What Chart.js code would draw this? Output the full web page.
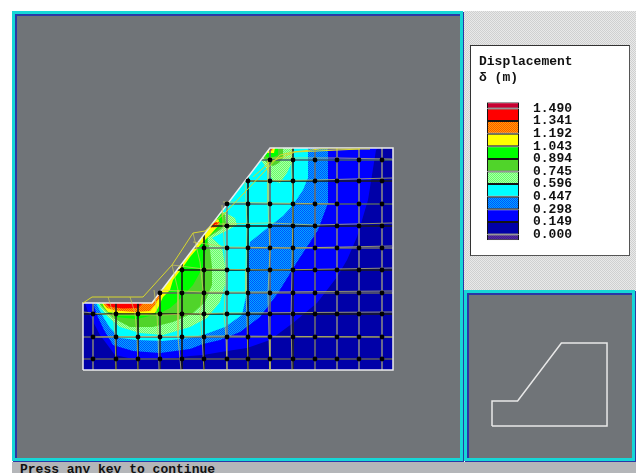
<!DOCTYPE html>
<html>
<head>
<meta charset="utf-8">
<script src="https://cdn.jsdelivr.net/npm/chart.js@4/dist/chart.umd.min.js"></script>
<style>
  html, body { margin: 0; padding: 0; background: #fff; overflow: hidden; }
  div, canvas { position: absolute; box-sizing: border-box; }
  .panel { background: #707478; border: 3px solid #16d6d6; box-shadow: inset 2px 2px 0 #2a38a6, 1px 1px 0 #2a38a6; }
  #hatch { left: 464px; top: 11px; width: 172px; height: 280px; background: repeating-conic-gradient(#cfd0d0 0 25%, #e9e9e9 0 50%) 0 0 / 2px 2px; }
  #legendBox { left: 470px; top: 45px; width: 160px; height: 211px; background: #fff; border: 1px solid #333; border-right-color: #555; border-bottom-color: #555; }
  #status { left: 12px; top: 462px; width: 624px; height: 11px; background: #b4b6b9; overflow: hidden; padding: 1px 0 0 8px;
            font: bold 13px/13px "Liberation Mono", monospace; color: #111; white-space: pre; }
</style>
</head>
<body>
<div class="panel" style="left:12px;top:11px;width:451px;height:450px"></div>
<div id="hatch"></div>
<div class="panel" style="left:464px;top:290px;width:171px;height:171px"></div>
<div id="legendBox"></div>
<div id="status">Press any key to continue</div>
<canvas id="main" width="445" height="444" style="left:15px;top:14px"></canvas>
<canvas id="legend" width="157" height="208" style="left:471px;top:46px"></canvas>
<canvas id="inset" width="166" height="164" style="left:467px;top:295px"></canvas>
<script>
// model coordinates: u along the base from the left edge, v up from the base
const slopeOutline = [[0,0],[310,0],[310,222],[187,222],[69,67],[0,67],[0,0]];

// contour regions, each one holds everything above its level
const contourBlue = [[2,67],[5,58],[17,35],[32,15],[54,10],[77,10],[107,14],[120,15],[144,19],[164,22],[187,30],[210,47],[234,67],[254,93],[264,110],[274,133],[285,170],[293,220],[295,222],[187,222],[69,67]];
const contourAzure = [[10,67],[14,55],[21,40],[30,25],[50,19],[77,17],[107,21],[120,26],[137,30],[157,38],[177,53],[195,77],[214,108],[235,140],[245,167],[245,222],[187,222],[69,67]];
const contourCyan = [[13,67],[19,55],[27,42],[37,32],[54,30],[80,29],[107,32],[120,35],[142,43],[159,55],[164,78],[164,107],[167,128],[187,144],[200,154],[210,165],[220,180],[225,192],[225,222],[187,222],[69,67]];
const contourLight = [[15,67],[17,63],[25,53],[37,43],[57,37],[80,35],[107,43],[124,52],[137,68],[142,85],[142,105],[139,123],[129,132],[145,140],[154,145],[152,152],[139,159],[69,67]];
const contourLightTop = [[187,222],[210,222],[210,210],[204,197],[197,187],[190,189],[182,204],[178,210]];
const contourMid = [[16,67],[18,64],[30,52],[47,43],[70,43],[90,48],[110,57],[122,68],[129,85],[129,103],[127,120],[124,132],[137,140],[143,146],[142,155],[138,158],[69,67]];
const contourMidTop = [[187,222],[200,222],[200,212],[196,207],[190,204],[184,207],[180,213]];
const contourGreen = [[18,67],[20,64],[32,53],[54,51],[75,56],[87,62],[94,68],[110,85],[120,103],[124,127],[125,133],[135,141],[141,148],[139,154],[137,156],[69,67]];
const contourGreenTop = [[187,222],[195,222],[195,215],[188,212],[182,214]];
const contourYellow = [[19,67],[21,63],[25,58],[40,56],[64,55],[72,57],[75,62],[80,73],[87,80],[90,90],[100,103],[107,113],[119,127],[128,136],[135,144],[136,150],[133,151],[69,67]];
const contourYellowTop = [[187,222],[192,222],[191,217],[184,217]];
const contourOrange = [[20,67],[24,62],[32,59.5],[52,58],[67,59],[72,65],[78,75],[77,78],[69,67]];
const contourOrangeLobe = [[131,148],[137,148],[135,143],[127,142]];
const contourOrangeTop = [[187,222],[190,222],[189,219],[186,219]];
const contourRed = [[22,67],[27,63],[40,61.5],[55,62],[60,67]];
const contourRedLobe = [[131.5,147.5],[135,147],[129,144]];
const contourRedTop = [[187,222],[188.5,222],[187,220]];

// mesh nodes: columns, rows, and the first column each row reaches
const meshU = [10,33,55,77,99,121,144,165,187,210,232,254,276,299];
const meshV = [11,33,56,77,100,122,144,166,189,210];
const rowFirstCol = [0,0,0,3,4,5,6,6,7,8];
const rowLeftEdge = [0,0,0,77,94,111,128,144,162,178];
const colTopEdge = [67,67,67,77,106,135,165,193,222,222,222,222,222,222];
const rowShades = ['#5c5c5c','#66666a','#1a1a1a','#606060','#1a1a1a','#6e6e6e','#1a1a1a','#506068','#1a1a1a','#40606a'];
const colShades = ['#7c7c7c','#242424','#141414','#303030','#141414','#141414','#7a7a7a','#141414','#666670','#242424','#6c6c6c','#828282','#868686','#868686'];

// displaced mesh
const movedOutline = [[0,67],[9,73],[60,73],[89,105],[110,137],[122,139],[142,157],[180,197],[197,215],[210,218],[237,221],[287,221]];
const movedOutlineInner = [[170,193],[187,208],[212,218],[277,221]];
const movedCols = [
  [[25,73],[30,57],[32,35],[33,0]],
  [[47,73],[52,57],[54,35],[55,0]],
  [[71,80],[74,57],[75,35],[76,0]],
  [[89,105],[95,80],[95,55],[95,33],[98,0]],
  [[110,137],[117,108],[120,80],[117,58],[119,33],[121,0]],
  [[139,165],[141,130],[143,100],[142,77],[141,55],[143,33],[144,0]],
  [[162,188],[164,145],[163,100],[163,77],[164,54],[165,0]],
  [[185,210],[185,165],[187,120],[185,77],[186,33],[187,0]],
  [[208,221],[210,165],[209,100],[208,52],[209,0]]
];
const movedRows = [
  [[10,33],[141,34],[309,33]],
  [[0,58],[30,55],[75,55],[141,57],[309,58]],
  [[77,80],[121,78],[187,78],[309,79]],
  [[89,105],[121,101],[187,100],[254,101],[309,102]],
  [[110,128],[144,123],[210,122],[309,124]],
  [[135,146],[187,147],[232,145],[309,147]],
  [[140,168],[187,167],[254,166]],
  [[165,189],[232,190],[309,192]],
  [[187,212],[254,212],[309,211]]
];

// legend
const legendTicks = [1.490,1.341,1.192,1.043,0.894,0.745,0.596,0.447,0.298,0.149,0.000];
const legendBands = [-0.067,0.149,0.149,0.149,0.149,0.149,0.149,0.149,0.149,0.149,0.149,0.074];

function dither(a, b) {
  const c = document.createElement('canvas');
  c.width = c.height = 2;
  const g = c.getContext('2d');
  g.fillStyle = a;
  g.fillRect(0, 0, 2, 2);
  g.fillStyle = b;
  g.fillRect(0, 0, 1, 1);
  g.fillRect(1, 1, 1, 1);
  return g.createPattern(c, 'repeat');
}

const colors = {
  purple: dither('#3c1e96', '#5a2a9a'),
  darkBlue: '#0000a8',
  blue: '#0000ff',
  azure: dither('#0050ff', '#00a8ff'),
  cyan: '#00ffff',
  light: dither('#66ff66', '#a8ffa8'),
  mid: '#50d42a',
  green: '#00ff00',
  yellow: '#ffff00',
  orange: dither('#ff5000', '#ffa800'),
  red: '#ff0000',
  darkRed: '#c80032'
};

const toXY = pts => pts.map(([x, y]) => ({ x, y }));

const region = (pts, fillColor) => ({
  data: toXY(pts), showLine: true, fill: 'shape', backgroundColor: fillColor,
  borderWidth: 0, pointRadius: 0, tension: 0
});
const polyline = (pts, color, width) => ({
  data: toXY(pts), showLine: true, fill: false, borderColor: color,
  borderWidth: width, pointRadius: 0, tension: 0
});

const layers = [
  region(slopeOutline, colors.darkBlue),
  region(contourBlue, colors.blue),
  region(contourAzure, colors.azure),
  region(contourCyan, colors.cyan),
  region(contourLight, colors.light),
  region(contourLightTop, colors.light),
  region(contourMid, colors.mid),
  region(contourMidTop, colors.mid),
  region(contourGreen, colors.green),
  region(contourGreenTop, colors.green),
  region(contourYellow, colors.yellow),
  region(contourYellowTop, colors.yellow),
  region(contourOrange, colors.orange),
  region(contourOrangeLobe, colors.orange),
  region(contourOrangeTop, colors.orange),
  region(contourRed, colors.red),
  region(contourRedLobe, colors.red),
  region(contourRedTop, colors.red)
];

// undeformed mesh
meshV.forEach((v, r) => layers.push(polyline([[rowLeftEdge[r], v], [310, v]], rowShades[r], 1.6)));
meshU.forEach((u, c) => layers.push(polyline([[u, 0], [u, colTopEdge[c]]], colShades[c], 1.6)));

layers.push(polyline(slopeOutline, '#ececec', 1.5));

// deformed mesh on top
[...movedCols, ...movedRows].forEach(l => layers.push(polyline(l, 'rgba(205,205,90,0.7)', 1)));
layers.push(polyline(movedOutline, '#d8d82c', 1));
layers.push(polyline(movedOutlineInner, '#d8d82c', 1));

const nodes = [];
meshV.forEach((v, r) => meshU.forEach((u, c) => { if (c >= rowFirstCol[r]) nodes.push([u, v]); }));
layers.push({ data: toXY(nodes), pointRadius: 2.4, pointBackgroundColor: '#000', pointBorderWidth: 0 });

const hiddenScale = (min, max) => ({ type: 'linear', display: false, min, max });

const bareOpts = x => ({
  responsive: false,
  animation: false,
  events: [],
  layout: { padding: 0, autoPadding: false },
  plugins: { legend: { display: false }, tooltip: { enabled: false }, title: { display: false } },
  scales: x
});

// chart.js paints the first dataset last
new Chart(document.getElementById('main'), {
  type: 'scatter',
  data: { datasets: layers.reverse() },
  options: bareOpts({ x: hiddenScale(-68, 377), y: hiddenScale(-88, 356) })
});

new Chart(document.getElementById('inset'), {
  type: 'scatter',
  data: { datasets: [polyline(slopeOutline, '#e8e8e8', 1.5)] },
  options: bareOpts({ x: hiddenScale(-67.4, 380), y: hiddenScale(-88, 350) })
});

const legendColors = [colors.purple, colors.darkBlue, colors.blue, colors.azure, colors.cyan, colors.light,
  colors.mid, colors.green, colors.yellow, colors.orange, colors.red, colors.darkRed];

new Chart(document.getElementById('legend'), {
  type: 'bar',
  data: {
    labels: [''],
    datasets: legendBands.map((b, i) => ({
      data: [b], backgroundColor: legendColors[i], borderColor: '#141414', borderWidth: 1, borderSkipped: false,
      barPercentage: 0.667, categoryPercentage: 1
    }))
  },
  options: {
    responsive: false,
    animation: false,
    events: [],
    layout: { padding: { left: 8, top: 2, bottom: 13, right: 0 }, autoPadding: false },
    plugins: {
      legend: { display: false },
      tooltip: { enabled: false },
      title: {
        display: true,
        text: ['Displacement', 'δ (m)'],
        align: 'start',
        color: '#111',
        font: { family: '"Liberation Mono", monospace', size: 13, weight: 'bold', lineHeight: 1.2 },
        padding: { top: 6, bottom: 17 }
      }
    },
    scales: {
      x: { stacked: true, display: false },
      y: {
        stacked: true,
        position: 'right',
        min: -0.067,
        max: 1.564,
        grid: { display: false, drawTicks: false },
        border: { display: false },
        afterBuildTicks: s => { s.ticks = legendTicks.map(value => ({ value })); },
        afterFit: s => { s.width = 101; },
        ticks: {
          autoSkip: false,
          padding: 6,
          color: '#111',
          font: { family: '"Liberation Mono", monospace', size: 13, weight: 'bold' },
          callback: v => v.toFixed(3)
        }
      }
    }
  }
});
</script>
</body>
</html>
